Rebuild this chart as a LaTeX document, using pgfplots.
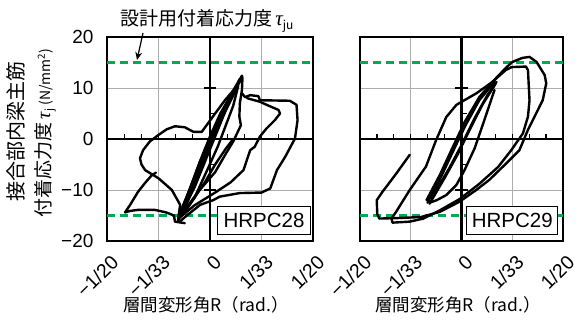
\documentclass[border=0pt]{standalone}
\usepackage{pgfplots}
\pgfplotsset{compat=1.18}
\usetikzlibrary{arrows.meta}
\usepackage{fontspec}
\setmainfont{Liberation Sans}
\newfontfamily\jp{Noto Sans CJK JP}
\newfontfamily\tms{Liberation Serif}
\definecolor{dgreen}{RGB}{0,170,80}

\pgfplotsset{
  panel/.style={
    scale only axis, width=206pt, height=204pt,
    xmin=-2, xmax=2, ymin=-20, ymax=20,
    xtick={-2,-1,0,1,2},
    xticklabels={},
    ytick={-20,-10,0,10,20},
    grid=major, grid style={gray!65, line width=0.7pt},
    axis line style={line width=1.5pt},
    major tick length=0pt,
    tick label style={font=\fontsize{19}{19}\selectfont},
  },
  curve/.style={black, line width=2.4pt, line join=round, line cap=round},
  design/.style={dgreen, line width=2.6pt, dash pattern=on 8pt off 5pt},
  centre/.code={
    \draw[line width=2.2pt] (axis cs:-2,0) -- (axis cs:2,0);
    \draw[line width=2.2pt] (axis cs:0,-20) -- (axis cs:0,20);
    \pgfplotsinvokeforeach{-1.6667,-1.3333,-1,-0.6667,-0.3333,0.3333,0.6667,1,1.3333,1.6667}{
      \draw[line width=1.2pt] (axis cs:##1,0) -- (axis cs:##1,1.0);}
    \draw[line width=1.2pt] (axis cs:-0.12,10) -- (axis cs:0.12,10);
    \draw[line width=1.2pt] (axis cs:-0.12,-10) -- (axis cs:0.12,-10);
    \draw[line width=1.2pt] (axis cs:0,5) -- (axis cs:0.1,5);
    \draw[line width=1.2pt] (axis cs:0,-5) -- (axis cs:0.1,-5);
  },
}

\begin{document}
\begin{tikzpicture}[x=1pt,y=1pt]
\useasboundingbox (0,0) rectangle (584,322);

% ---------------- HRPC28 ----------------
\begin{axis}[panel, at={(107pt,81pt)}, anchor=south west,
  yticklabels={−20,−10,0,10,20},
  yticklabel shift=10pt]
\addplot[design] coordinates {(-2,15) (2,15)};
\addplot[design] coordinates {(-2,-15) (2,-15)};
% small cycles (bundle)
\addplot[curve] coordinates {(-0.62,-16.0) (-0.45,-11.5) (-0.25,-6) (-0.05,-1) (0.2,4.5) (0.45,9.5) (0.62,12.4)};
\addplot[curve] coordinates {(-0.62,-15.5) (-0.5,-12.5) (-0.3,-8) (-0.15,-4) (0.05,1) (0.3,6.5) (0.55,11.0)};
\addplot[curve] coordinates {(0.60,11.5) (0.40,8.5) (0.2,5) (0.0,0.5) (-0.2,-4.5) (-0.4,-10) (-0.58,-15)};
\addplot[curve] coordinates {(0.55,10.5) (0.45,6.5) (0.3,2.5) (0.15,-1.5) (-0.05,-6) (-0.3,-11.5) (-0.55,-15)};
\addplot[curve] coordinates {(0.50,9.5) (0.25,4.5) (0.05,0) (-0.2,-6) (-0.35,-10) (-0.5,-14)};
\addplot[curve] coordinates {(-0.55,-14.5) (-0.3,-9.5) (-0.1,-4.5) (0.1,0.5) (0.3,5.5) (0.5,10.0)};
\addplot[curve] coordinates {(-0.60,-15.0) (-0.42,-10.5) (-0.22,-5.5) (0.0,-0.5) (0.22,4.0) (0.40,8.0) (0.58,11.8)};
\addplot[curve] coordinates {(0.62,12.4) (0.63,11.9) (0.62,9.6) (0.58,7.0) (0.57,4.4) (0.60,2.7) (0.45,-0.5) (0.3,-3) (0.1,-6.5) (-0.2,-10) (-0.5,-14.5)};
\addplot[curve] coordinates {(0.45,0) (0.3,-2) (0.1,-5) (-0.1,-8.5) (-0.35,-12) (-0.6,-15.5)};
% upper-left curve and triangle
\addplot[curve] coordinates {(0.45,9.5) (0.29,7.6) (0.10,5.0) (-0.16,1.4) (-0.32,1.4) (-0.49,2.3) (-0.68,2.5) (-0.84,1.9) (-1.0,0.8) (-1.17,-0.5) (-1.30,-2.2) (-1.36,-3.8) (-1.33,-5.0) (-1.26,-6.1) (-1.0,-7.7) (-0.74,-10.0) (-0.58,-12.9) (-0.62,-15.8)};
\addplot[curve] coordinates {(-0.49,-16.5) (-0.68,-16.2) (-0.70,-15.0) (-0.85,-14.4) (-1.07,-13.9) (-1.40,-13.9) (-1.55,-14.1) (-1.65,-14.4) (-1.55,-12.9) (-1.40,-10.4) (-1.26,-8.6) (-1.13,-7.1) (-1.05,-6.6)};
% outer right loop
\addplot[curve] coordinates {(0.62,9.0) (0.68,8.2) (0.78,8.6) (0.94,8.4) (0.97,7.6) (1.55,7.5) (1.68,6.7) (1.70,3.7) (1.65,0.1) (1.46,-3.5) (1.30,-6.1) (1.17,-9.7) (1.0,-10.5) (0.58,-10.6) (0.19,-11.3) (0.06,-12.0) (-0.19,-12.9) (-0.45,-15.0) (-0.60,-16.3)};
% inner right loop
\addplot[curve] coordinates {(0.72,8.0) (0.97,7.3) (1.10,6.7) (1.33,5.7) (1.36,5.0) (1.26,3.7) (1.10,2.1) (0.97,0.5) (0.87,-1.5) (0.78,-2.2) (0.65,-6.1) (0.4,-8.5) (0.1,-10.5) (-0.3,-13) (-0.6,-15.5)};
\pgfkeys{/pgfplots/centre}
\node[draw, fill=white, line width=1pt, inner xsep=6pt, inner ysep=7pt,
  font=\fontsize{20.5}{20.5}\selectfont] at (axis cs:1.05,-16) {HRPC28};
\end{axis}

% ---------------- HRPC29 ----------------
\begin{axis}[panel, width=203pt, at={(360pt,81pt)}, anchor=south west,
  yticklabels={}]
\addplot[design] coordinates {(-2,15) (2,15)};
\addplot[design] coordinates {(-2,-15) (2,-15)};
% bundle
\addplot[curve] coordinates {(-0.67,-12.5) (-0.43,-8.0) (-0.20,-3.1) (0.08,2.7) (0.35,7.6) (0.65,11.2)};
\addplot[curve] coordinates {(-0.63,-12.7) (-0.33,-7.6) (-0.08,-3.1) (0.16,1.8) (0.41,6.7) (0.67,10.8)};
\addplot[curve] coordinates {(-0.69,-12.0) (-0.43,-7.1) (-0.2,-2.2) (0.06,3.3) (0.35,8.2) (0.63,11.4)};
\addplot[curve] coordinates {(-0.63,-12.5) (-0.49,-12.0) (-0.30,-11.0) (-0.10,-9.0) (0.06,-6.1) (0.26,-1.8) (0.45,3.7) (0.65,9.6)};
\addplot[curve] coordinates {(-0.59,-11.6) (-0.24,-5.7) (0,-1.2) (0.26,4.1) (0.51,8.6) (0.69,11.2)};
% inner large loop
\addplot[curve] coordinates {(0.61,11.2) (0.87,13.5) (0.99,14.1) (1.27,14.2) (1.31,13.5) (1.34,7.6) (1.31,4.4) (1.21,1.1) (0.98,-2.2) (0.72,-5.5) (0.35,-8.8) (-0.04,-11.8) (-0.43,-14.0) (-0.75,-15.6) (-1.02,-16.2) (-1.36,-16.4) (-1.38,-15.6) (-1.29,-14.3) (-1.02,-10.0) (-0.70,-5.4) (-0.50,-0.2) (-0.30,4.3) (-0.10,6.7) (0.30,9.0) (0.61,11.2)};
% outer large loop
\addplot[curve] coordinates {(0.61,11.2) (0.87,13.9) (1.00,15.1) (1.20,15.9) (1.34,16.1) (1.48,15.1) (1.64,12.5) (1.67,10.9) (1.60,7.6) (1.47,5.0) (1.31,1.8) (1.14,-2.2) (0.88,-4.8) (0.55,-8.0) (0.29,-10.0) (-0.04,-12.3) (-0.43,-14.3) (-0.8,-15.3) (-1.25,-15.5) (-1.62,-15.6) (-1.66,-14.7) (-1.67,-12.0) (-1.56,-10.4) (-1.28,-6.7) (-1.02,-3.1)};
\pgfkeys{/pgfplots/centre}
\node[draw, fill=white, line width=1pt, inner xsep=5pt, inner ysep=7pt,
  font=\fontsize{20.5}{20.5}\selectfont] at (axis cs:1.0,-16) {HRPC29};
\end{axis}

% ---------------- rotated x tick labels ----------------
\foreach \px/\lab in {107/−1\slash 20, 158.5/−1\slash 33, 210/0, 261.5/1\slash 33, 313/1\slash 20,
                      360/−1\slash 20, 410.75/−1\slash 33, 461.5/0, 512.25/1\slash 33, 563/1\slash 20}{
  \node[anchor=east, rotate=45, inner sep=0pt, font=\fontsize{19.5}{19.5}\selectfont]
    at (\px+8,63) {\lab};
}

% ---------------- texts ----------------
\node[anchor=west, inner sep=0pt] at (120,301) {\jp\fontsize{19}{19}\selectfont 設計用付着応力度\,{\tms\itshape\fontsize{21}{21}\selectfont τ}\raisebox{-4pt}{\itshape\fontsize{12}{12}\selectfont ju}};
\draw[line width=1.2pt, -{Stealth[length=8pt,width=7pt]}] (143,289) -- (137,262);

\node[rotate=90, inner sep=0pt] at (16,191) {\jp\fontsize{20}{20}\selectfont 接合部内梁主筋};
\node[rotate=90, inner sep=0pt] at (45,189) {\jp\fontsize{19}{19}\selectfont 付着応力度\,{\tms\itshape\fontsize{20}{20}\selectfont τ}\raisebox{-3pt}{\itshape\fontsize{11}{11}\selectfont j}\,{\fontsize{14}{14}\selectfont (N/mm\textsuperscript{2})}};

\node[inner sep=0pt] at (206,17) {\jp\fontsize{17.5}{17.5}\selectfont 層間変形角R（rad.）};
\node[inner sep=0pt] at (458,17) {\jp\fontsize{17.5}{17.5}\selectfont 層間変形角R（rad.）};
\end{tikzpicture}
\end{document}
